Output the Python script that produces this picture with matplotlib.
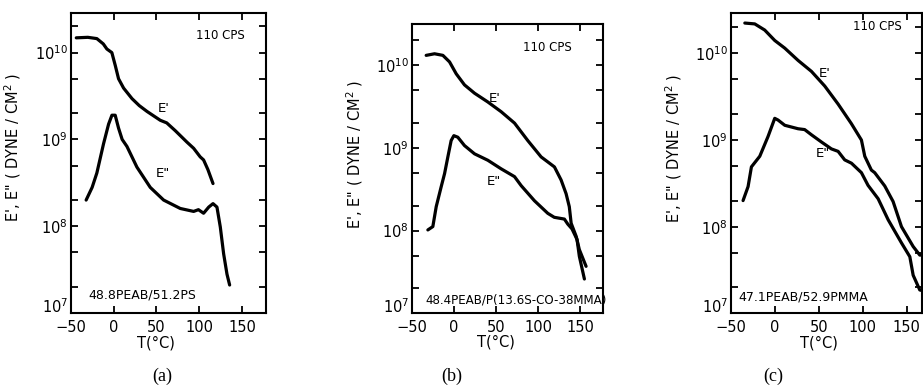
import numpy as np
import matplotlib
matplotlib.use("Agg")
import matplotlib.pyplot as plt
from matplotlib.ticker import LogLocator, NullFormatter, FixedLocator, FuncFormatter

plt.rcParams['font.family'] = ['DejaVu Sans']

# Temperature (deg C) and dynamic moduli (dyne/cm^2) at 110 cps

# (a) 48.8 PEAB / 51.2 PS
t_a_storage = [-43.5, -30, -19.5, -12, -7.8, -2, 2, 5.8, 11.7, 21.5, 30, 39, 54.5, 62,
               72, 85.6, 93.4, 101, 105, 110, 116]
e_a_storage = [1.48e10, 1.5e10, 1.45e10, 1.26e10, 1.1e10, 1.0e10, 7.1e9, 5.0e9, 3.9e9,
               2.95e9, 2.45e9, 2.1e9, 1.66e9, 1.55e9, 1.26e9, 9.3e8, 7.9e8, 6.3e8,
               5.8e8, 4.5e8, 3.1e8]
t_a_loss = [-32, -25, -19.5, -11.7, -5.8, -1.9, 1.9, 5.8, 10, 15.6, 27.2, 42.8, 58.4,
            77.8, 93.4, 99, 105, 111, 116, 120.6, 124.5, 128.4, 132.3, 135.4]
e_a_loss = [2.0e8, 2.8e8, 4.1e8, 8.9e8, 1.5e9, 1.9e9, 1.9e9, 1.35e9, 1.0e9, 8.3e8,
            4.8e8, 2.8e8, 2.0e8, 1.6e8, 1.48e8, 1.55e8, 1.41e8, 1.66e8, 1.82e8,
            1.66e8, 9.8e7, 4.8e7, 2.8e7, 2.1e7]

# (b) 48.4 PEAB / P(S-co-MMA)
t_b_storage = [-32.8, -22.9, -13, -5.1, 2.8, 12.6, 24.5, 40.3, 56, 71.9, 87.6, 103.4,
               119.2, 127.1, 133, 136.8, 139, 145, 148.7, 156.7]
e_b_storage = [1.32e10, 1.38e10, 1.32e10, 1.1e10, 7.9e9, 5.8e9, 4.6e9, 3.6e9, 2.75e9,
               2.0e9, 1.23e9, 7.8e8, 5.9e8, 4.1e8, 2.8e8, 1.95e8, 1.23e8, 8.5e7,
               5.9e7, 3.7e7]
t_b_loss = [-30.8, -24.9, -20.9, -15, -11, -7.1, -3.2, 0, 4.7, 12.6, 24.5, 40.3, 56,
            71.9, 79.8, 95.5, 111.3, 119, 131, 135, 140, 146, 148.7, 154.7]
e_b_loss = [1.02e8, 1.12e8, 1.95e8, 3.4e8, 4.9e8, 7.8e8, 1.23e9, 1.41e9, 1.35e9,
            1.07e9, 8.5e8, 7.1e8, 5.6e8, 4.5e8, 3.5e8, 2.3e8, 1.62e8, 1.45e8,
            1.38e8, 1.2e8, 1.05e8, 7.8e7, 4.9e7, 2.6e7]

# (c) 47.1 PEAB / 52.9 PMMA
t_c_storage = [-34, -22.7, -11.4, 0, 11.4, 26.5, 41.7, 56.8, 72, 87, 98.5, 102.3,
               109.8, 113.6, 125, 134.5, 144, 157.3, 164.8, 170]
e_c_storage = [2.24e10, 2.19e10, 1.86e10, 1.41e10, 1.15e10, 8.3e9, 6.2e9, 4.2e9,
               2.6e9, 1.55e9, 1.0e9, 6.5e8, 4.5e8, 4.2e8, 2.95e8, 1.95e8, 1.0e8,
               5.9e7, 4.7e7, 4.7e7]
t_c_loss = [-36, -30.3, -26.5, -17, -7.6, 0, 3.8, 11.4, 26.5, 34, 41.7, 53, 64.4, 72,
            79.5, 87.2, 98.5, 106, 117.5, 128.9, 144, 153.5, 157.3, 164.8, 170]
e_c_loss = [2.0e8, 2.9e8, 4.9e8, 6.5e8, 1.1e9, 1.78e9, 1.7e9, 1.48e9, 1.35e9, 1.32e9,
            1.15e9, 9.5e8, 7.9e8, 7.4e8, 5.9e8, 5.4e8, 4.2e8, 3.0e8, 2.1e8, 1.2e8,
            6.5e7, 4.5e7, 2.75e7, 1.86e7, 1.8e7]

x_ticks = [-50, 0, 50, 100, 150]
blend_names = ["48.8PEAB/51.2PS", "48.4PEAB/P(13.6S-CO-38MMA)", "47.1PEAB/52.9PMMA"]
panel_tags = ["(a)", "(b)", "(c)"]


def decade_label(v, pos):
    # the lowest decade is written by hand a bit higher, clear of "-50"
    p = int(round(np.log10(v)))
    if p <= 7:
        return ""
    return "$10^{%d}$" % p


def draw_panel(fig, rect, xmax, ytop, t_st, e_st, t_lo, e_lo, name, name_xy,
               name_size, freq_xy, ep_xy, epp_xy):
    ax = fig.add_axes(rect)
    ax.plot(t_st, e_st, color='black', lw=2.3, solid_joinstyle='round',
            solid_capstyle='round')
    ax.plot(t_lo, e_lo, color='black', lw=2.3, solid_joinstyle='round',
            solid_capstyle='round')
    ax.set_yscale('log')
    ax.set_xlim(-50, xmax)
    ax.set_ylim(1e7, ytop)

    ax.xaxis.set_major_locator(FixedLocator(x_ticks))
    ax.yaxis.set_major_locator(LogLocator(base=10, numticks=10))
    ax.yaxis.set_major_formatter(FuncFormatter(decade_label))
    ax.yaxis.set_minor_locator(LogLocator(base=10, subs=(2.0, 5.0), numticks=10))
    ax.yaxis.set_minor_formatter(NullFormatter())
    ax.tick_params(which='both', direction='in', top=True, right=True,
                   length=5, width=1.3, labelsize=10.5)
    ax.tick_params(axis='x', pad=5)
    ax.tick_params(axis='y', pad=2)
    for s in ax.spines.values():
        s.set_linewidth(1.5)
    ax.text(-0.012, 0.022, "$10^{7}$", transform=ax.transAxes, ha='right',
            va='center', fontsize=10.5)

    ax.set_ylabel("E', E\" ( DYNE / CM$^2$ )", fontsize=10.5)
    ax.yaxis.set_label_coords(-0.245, 0.55)
    ax.text(50, -0.075, "T(°C)", transform=ax.get_xaxis_transform(),
            ha='center', va='top', fontsize=10.5)

    ax.text(*freq_xy, "110 CPS", transform=ax.transAxes, ha='center', va='center',
            fontsize=8.5)
    ax.text(*name_xy, name, transform=ax.transAxes, ha='left', va='center',
            fontsize=name_size, clip_on=False, zorder=5)
    ax.text(*ep_xy, "E'", ha='center', va='center', fontsize=9.5)
    ax.text(*epp_xy, "E\"", ha='center', va='center', fontsize=9.5)
    return ax


fig = plt.figure(figsize=(9.23, 3.89), dpi=100)

draw_panel(fig, [0.0766, 0.1954, 0.2113, 0.772], 177.5, 10 ** 10.46,
           t_a_storage, e_a_storage, t_a_loss, e_a_loss, blend_names[0],
           (0.09, 0.06), 9, (0.77, 0.925), (58, 10 ** 9.36), (58, 10 ** 8.61))
draw_panel(fig, [0.4460, 0.1946, 0.2069, 0.7437], 176.3, 10 ** 10.5,
           t_b_storage, e_b_storage, t_b_loss, e_b_loss, blend_names[1],
           (0.07, 0.045), 8.6, (0.71, 0.92), (48, 10 ** 9.60), (47, 10 ** 8.59))
draw_panel(fig, [0.7917, 0.1946, 0.2069, 0.7728], 167, 10 ** 10.47,
           t_c_storage, e_c_storage, t_c_loss, e_c_loss, blend_names[2],
           (0.04, 0.055), 9, (0.77, 0.955), (57, 10 ** 9.77), (55, 10 ** 8.85))

for tag, x in zip(panel_tags, [162, 452, 773]):
    fig.text(x / 923, 1 - 376 / 389, tag, ha='center', va='center', fontsize=13,
             family='Liberation Serif')

fig.savefig("out.png", dpi=100)
